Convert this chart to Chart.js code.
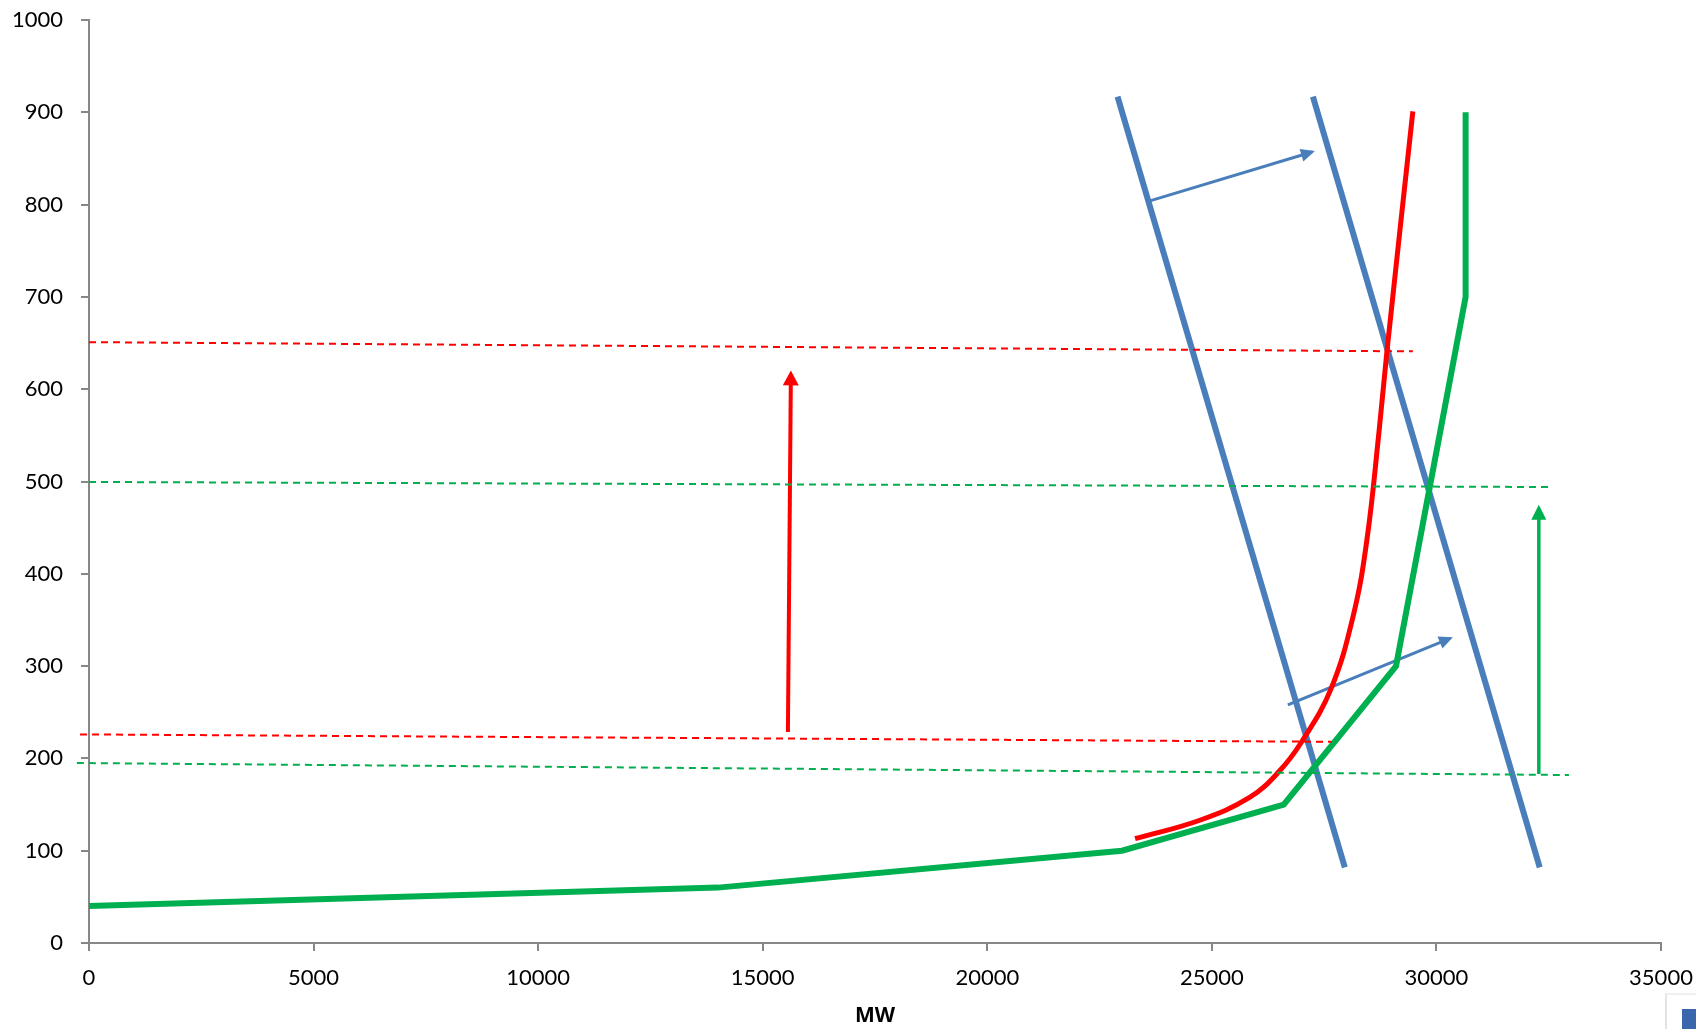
<!DOCTYPE html>
<html>
<head>
<meta charset="utf-8">
<script src="https://cdn.jsdelivr.net/npm/chart.js@4.4.0/dist/chart.umd.min.js"></script>
<style>
    body { margin: 0; background: #fff; overflow: hidden; }
    #wrap { position: relative; width: 1696px; height: 1029px; }
    #legendBit {
        position: absolute; left: 1665px; top: 993px; width: 31px; height: 36px;
        border-left: 2px solid #e4e4e4; border-top: 2px solid #f0f0f0; background: #fff;
    }
    #legendBit span {
        position: absolute; left: 15px; top: 14px; width: 14px; height: 22px; background: #3a67ac;
    }
</style>
</head>
<body>
<div id="wrap">
    <canvas id="chart" width="1696" height="1029"></canvas>
    <div id="legendBit"><span></span></div>
</div>
<script>
// Supply curve (green, thick)
const supplyX = [0, 14000, 23000, 26600, 29100, 30650, 30650];
const supplyY = [40, 60, 100, 150, 300, 700, 900];

// Red supply curve
const redX = [23290, 24730, 25850, 26500, 27000, 27650, 28150, 28450, 28720, 28900, 29475];
const redY = [113, 133, 158, 186, 218, 275, 355, 436, 553, 642, 901];

// Demand lines (blue)
const demand1X = [22900, 27960];
const demand1Y = [917, 82];
const demand2X = [27250, 32300];
const demand2Y = [917, 82];

// Price levels (dashed)
const redHighX = [0, 29475];
const redHighY = [651, 641];
const redLowX = [-200, 27670];
const redLowY = [226, 218];
const greenHighX = [0, 32590];
const greenHighY = [499.5, 494];
const greenLowX = [-270, 32950];
const greenLowY = [195, 182];

// Arrows
const redArrowX = [15561, 15627];
const redArrowY = [228.6, 616];
const greenArrowX = [32280, 32280];
const greenArrowY = [183, 471];
const blueArrow1X = [23620, 27230];
const blueArrow1Y = [804, 857];
const blueArrow2X = [26692, 30305];
const blueArrow2Y = [258, 330];

const xTickStep = 5000;
const yTickStep = 100;

const BLUE = '#4a7ebb';
const GREEN = '#00b050';
const RED = '#ff0000';

function pts(xs, ys) {
    return xs.map((x, i) => ({ x: x, y: ys[i] }));
}

function lineSet(xs, ys, color, width, extra) {
    return Object.assign({
        data: pts(xs, ys),
        showLine: true,
        borderColor: color,
        backgroundColor: color,
        borderWidth: width,
        pointRadius: 0,
        fill: false,
        clip: false
    }, extra || {});
}

// draws a filled arrow head at the last point of datasets that ask for one
const arrowHeads = {
    id: 'arrowHeads',
    afterDatasetsDraw(chart) {
        const { ctx, scales: { x, y } } = chart;
        chart.data.datasets.forEach(ds => {
            if (!ds.arrowLen) return;
            const n = ds.data.length;
            const x1 = x.getPixelForValue(ds.data[n - 2].x);
            const y1 = y.getPixelForValue(ds.data[n - 2].y);
            const x2 = x.getPixelForValue(ds.data[n - 1].x);
            const y2 = y.getPixelForValue(ds.data[n - 1].y);
            const ang = Math.atan2(y2 - y1, x2 - x1);
            const c = Math.cos(ang), s = Math.sin(ang);
            const tipX = x2 + c * ds.borderWidth, tipY = y2 + s * ds.borderWidth;
            const L = ds.arrowLen, W = ds.arrowWidth / 2;
            const bx = tipX - c * L, by = tipY - s * L;
            ctx.save();
            ctx.fillStyle = ds.borderColor;
            ctx.beginPath();
            ctx.moveTo(tipX, tipY);
            ctx.lineTo(bx - s * W, by + c * W);
            ctx.lineTo(bx + s * W, by - c * W);
            ctx.closePath();
            ctx.fill();
            ctx.restore();
        });
    }
};

const axisFont = { family: 'Lato', size: 22 };
const plainNum = (v) => String(v);

new Chart(document.getElementById('chart'), {
    type: 'scatter',
    data: {
        datasets: [
            lineSet(redHighX, redHighY, RED, 2, { borderDash: [7, 5] }),
            lineSet(redLowX, redLowY, RED, 2, { borderDash: [7, 5] }),
            lineSet(greenHighX, greenHighY, GREEN, 2, { borderDash: [7, 5] }),
            lineSet(greenLowX, greenLowY, GREEN, 2, { borderDash: [7, 5] }),
            lineSet(supplyX, supplyY, GREEN, 6),
            lineSet(redX, redY, RED, 5, { tension: 0.4 }),
            lineSet(demand1X, demand1Y, BLUE, 6),
            lineSet(demand2X, demand2Y, BLUE, 6),
            lineSet(redArrowX, redArrowY, RED, 4, { arrowLen: 15, arrowWidth: 16 }),
            lineSet(greenArrowX, greenArrowY, GREEN, 3.5, { arrowLen: 15, arrowWidth: 15 }),
            lineSet(blueArrow1X, blueArrow1Y, BLUE, 3, { arrowLen: 14, arrowWidth: 13 }),
            lineSet(blueArrow2X, blueArrow2Y, BLUE, 3, { arrowLen: 14, arrowWidth: 13 })
        ]
    },
    options: {
        responsive: false,
        devicePixelRatio: 1,
        animation: false,
        layout: { padding: { top: 20, right: 35, left: 0, bottom: 0 } },
        plugins: {
            legend: { display: false },
            tooltip: { enabled: false }
        },
        scales: {
            x: {
                type: 'linear',
                min: 0,
                max: 35000,
                afterFit: (s) => { s.height = 86; s.paddingLeft = 0; s.paddingRight = 0; },
                ticks: { stepSize: xTickStep, color: '#000', font: axisFont, padding: 14, maxRotation: 0, callback: plainNum },
                grid: { drawOnChartArea: false, drawTicks: true, tickLength: 8, color: '#878787', lineWidth: 2 },
                border: { color: '#878787', width: 2 },
                title: {
                    display: true,
                    text: 'MW',
                    color: '#000',
                    font: { family: 'Noto Sans', size: 21, weight: 'bold' },
                    padding: { top: 0, bottom: 0 }
                }
            },
            y: {
                type: 'linear',
                min: 0,
                max: 1000,
                afterFit: (s) => { s.width = 89; s.paddingTop = 0; s.paddingBottom = 0; },
                ticks: { stepSize: yTickStep, color: '#000', font: axisFont, padding: 18, callback: plainNum },
                grid: { drawOnChartArea: false, drawTicks: true, tickLength: 8, color: '#878787', lineWidth: 2 },
                border: { color: '#878787', width: 2 }
            }
        }
    },
    plugins: [arrowHeads]
});
</script>
</body>
</html>
